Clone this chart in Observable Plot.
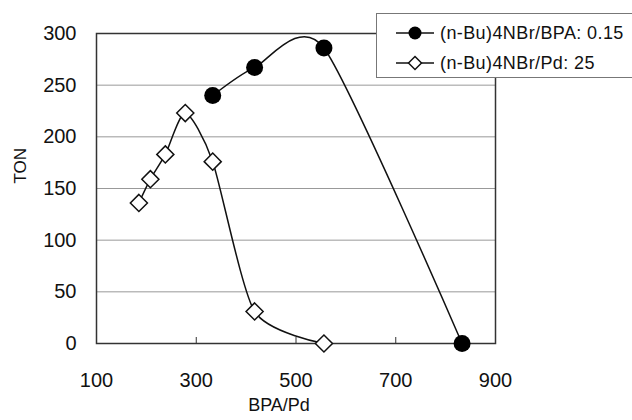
<!DOCTYPE html>
<html><head><meta charset="utf-8">
<script src="https://cdn.jsdelivr.net/npm/d3@7"></script>
<script src="https://cdn.jsdelivr.net/npm/@observablehq/plot@0.6"></script>
<style>
body{margin:0;background:#fff;}
#wrap{position:relative;width:632px;height:420px;overflow:hidden;font-family:"Liberation Sans",Arial,sans-serif;background:#fff;}
#legend{position:absolute;left:376px;top:13px;width:280px;height:65px;border:1px solid #777;background:#fff;box-sizing:border-box;}
.row{position:absolute;left:0;height:24px;display:flex;align-items:center;}
.row svg{display:block;}
.row span{font-size:18px;letter-spacing:0.4px;margin-left:5px;color:#111;white-space:nowrap;}
</style></head><body><div id="wrap"></div>
<script>
const seriesNames = ["(n-Bu)4NBr/BPA: 0.15", "(n-Bu)4NBr/Pd: 25"];
const bpaPdA = [333, 417, 556, 833];
const tonA = [240, 267, 286, 0];
const bpaPdB = [185, 208, 238, 278, 333, 417, 556];
const tonB = [136, 159, 183, 223, 176, 31, 0];
const xTicks = [100, 300, 500, 700, 900];
const yTicks = [0, 50, 100, 150, 200, 250, 300];
const xTitle = "BPA/Pd";
const yTitle = "TON";

const dataA = bpaPdA.map((x, i) => ({x, y: tonA[i]}));
const dataB = bpaPdB.map((x, i) => ({x, y: tonB[i]}));

const smooth = d3.curveCardinal.tension(0.3);
const font = '"Liberation Sans", Arial, sans-serif';
const chart = Plot.plot({
  width: 632, height: 420,
  marginLeft: 96, marginRight: 137, marginTop: 33, marginBottom: 77,
  style: {fontFamily: font, fontSize: "20px", color: "#111", background: "#fff"},
  x: {domain: [100, 900]},
  y: {domain: [0, 300]},
  marks: [
    Plot.gridY(yTicks.slice(1, -1), {stroke: "#999", strokeOpacity: 1, strokeWidth: 1}),
    Plot.axisY(yTicks, {tickSize: 0, tickPadding: 20, label: null, fontSize: 20}),
    Plot.axisX(xTicks, {tickSize: 0, tickPadding: 29, label: null, fontSize: 20}),
    Plot.axisX(xTicks.slice(1, -1), {tickSize: 6, insetBottom: 6, fill: "none", stroke: "#333", label: null}),
    Plot.frame({stroke: "#333", strokeWidth: 1.5}),
    Plot.line(dataB, {x: "x", y: "y", curve: smooth, stroke: "#111", strokeWidth: 1.5}),
    Plot.line(dataA, {x: "x", y: "y", curve: smooth, stroke: "#111", strokeWidth: 1.5}),
    Plot.dot(dataB, {x: "x", y: "y", symbol: "diamond2", r: 7.7, fill: "#fff", stroke: "#111", strokeWidth: 1.5}),
    Plot.dot(dataA, {x: "x", y: "y", r: 8.5, fill: "#000"}),
    Plot.text([yTitle], {frameAnchor: "left", dx: -76, dy: -5, rotate: -90, fontSize: 17}),
    Plot.text([xTitle], {frameAnchor: "bottom", dx: -17, dy: 67, fontSize: 18})
  ]
});
const wrap = document.getElementById("wrap");
wrap.appendChild(chart);

// legend
const legend = document.createElement("div");
legend.id = "legend";
const symbols = [
  `<circle cx="20" cy="12" r="6.5" fill="#000"/>`,
  `<path d="M20,5.5 L26.5,12 L20,18.5 L13.5,12 Z" fill="#fff" stroke="#111" stroke-width="1.5"/>`
];
seriesNames.forEach((name, i) => {
  const row = document.createElement("div");
  row.className = "row";
  row.style.top = (i === 0 ? 7 : 37) + "px";
  row.style.left = "18px";
  row.innerHTML = `<svg width="40" height="24"><line x1="1" y1="12" x2="39" y2="12" stroke="#111" stroke-width="1.5"/>${symbols[i]}</svg><span>${name}</span>`;
  legend.appendChild(row);
});
wrap.appendChild(legend);
</script>
</body></html>
